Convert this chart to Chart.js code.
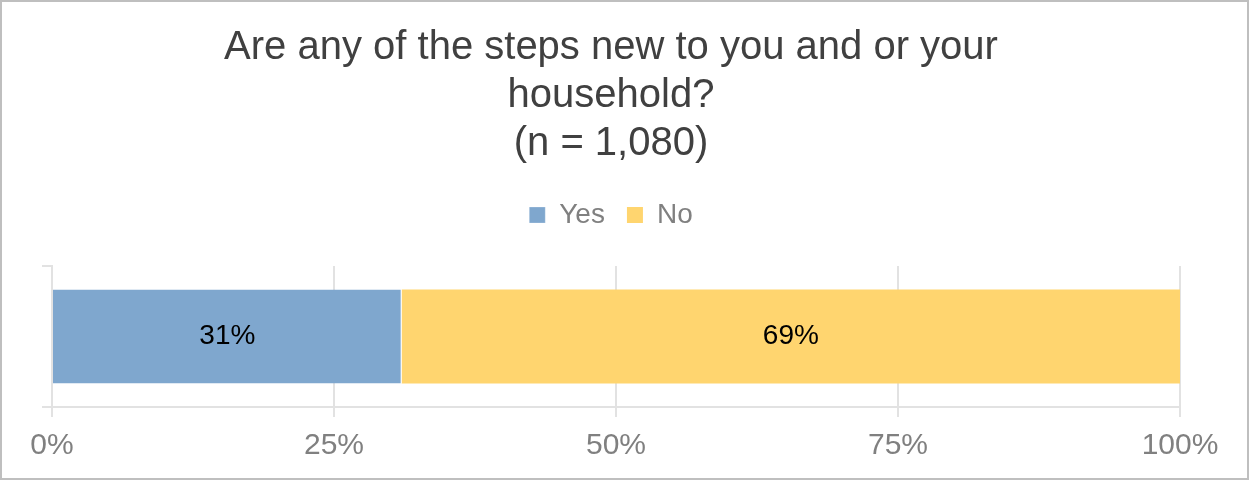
<!DOCTYPE html>
<html>
<head>
<meta charset="utf-8">
<script src="https://cdn.jsdelivr.net/npm/chart.js@4.4.1/dist/chart.umd.min.js"></script>
<style>
    body { margin: 0; background: #fff; }
    .chart-box {
        width: 1249px;
        height: 480px;
        box-sizing: border-box;
        border: 2px solid #bfbfbf;
        position: relative;
    }
</style>
</head>
<body>
<div class="chart-box">
    <canvas id="stepsChart"></canvas>
</div>
<script>
const categories = [''];
const yesValues = [31];
const noValues = [69];
const xTicks = [0, 25, 50, 75, 100];

const titleLines = ['Are any of the steps new to you and or your', 'household?', '(n = 1,080)'];

const fontFamily = '"Liberation Sans", Arial, sans-serif';

// 막대 가운데에 값(%) 표시
const barLabels = {
    id: 'barLabels',
    afterDatasetsDraw(chart) {
        const ctx = chart.ctx;
        ctx.save();
        ctx.font = '28px ' + fontFamily;
        ctx.fillStyle = '#000';
        ctx.textAlign = 'center';
        ctx.textBaseline = 'middle';
        chart.data.datasets.forEach((ds, i) => {
            chart.getDatasetMeta(i).data.forEach((bar, j) => {
                const p = bar.getProps(['x', 'base', 'y'], true);
                ctx.fillText(ds.data[j] + '%', (p.x + p.base) / 2, p.y);
            });
        });
        ctx.restore();
    }
};

// 범례와 차트 영역 사이 간격
const legendMargin = {
    id: 'legendMargin',
    beforeInit(chart) {
        const fit = chart.legend.fit;
        chart.legend.fit = function () {
            fit.bind(chart.legend)();
            this.height += 27;
        };
    }
};

const stepsCtx = document.getElementById('stepsChart').getContext('2d');
const stepsChart = new Chart(stepsCtx, {
    type: 'bar',
    data: {
        labels: categories,
        datasets: [{
            label: 'Yes',
            data: yesValues,
            backgroundColor: '#7fa7ce',
            borderColor: '#ffffff',
            borderWidth: { top: 0, bottom: 0, left: 0, right: 1 },
            borderSkipped: false,
            categoryPercentage: 1,
            barPercentage: 0.665
        }, {
            label: 'No',
            data: noValues,
            backgroundColor: '#ffd56f',
            borderWidth: 0,
            categoryPercentage: 1,
            barPercentage: 0.665
        }]
    },
    options: {
        indexAxis: 'y',
        responsive: true,
        maintainAspectRatio: false,
        animation: false,
        layout: {
            padding: { top: 22, left: 40, right: 67, bottom: 3 }
        },
        plugins: {
            title: {
                display: true,
                text: titleLines,
                color: '#404040',
                font: { size: 40, family: fontFamily, weight: 'normal', lineHeight: 1.2 },
                padding: { top: 0, bottom: 11 }
            },
            legend: {
                display: true,
                position: 'top',
                labels: {
                    boxWidth: 16,
                    boxHeight: 16,
                    color: '#808080',
                    padding: 22,
                    font: { size: 28, family: fontFamily }
                }
            },
            tooltip: { enabled: false }
        },
        scales: {
            x: {
                stacked: true,
                min: 0,
                max: 100,
                afterBuildTicks: (axis) => {
                    axis.ticks = xTicks.map(v => ({ value: v }));
                },
                ticks: {
                    color: '#808080',
                    padding: 11,
                    font: { size: 30, family: fontFamily },
                    callback: (value) => value + '%'
                },
                grid: {
                    color: '#e2e2e2',
                    lineWidth: 2,
                    tickLength: 10
                },
                border: { display: true, color: '#e2e2e2', width: 2 }
            },
            y: {
                stacked: true,
                ticks: { display: false },
                grid: {
                    offset: true,
                    drawOnChartArea: false,
                    drawTicks: true,
                    tickLength: 10,
                    color: '#e2e2e2',
                    lineWidth: 2
                },
                border: { display: true, color: '#e2e2e2', width: 2 }
            }
        }
    },
    plugins: [barLabels, legendMargin]
});
</script>
</body>
</html>
